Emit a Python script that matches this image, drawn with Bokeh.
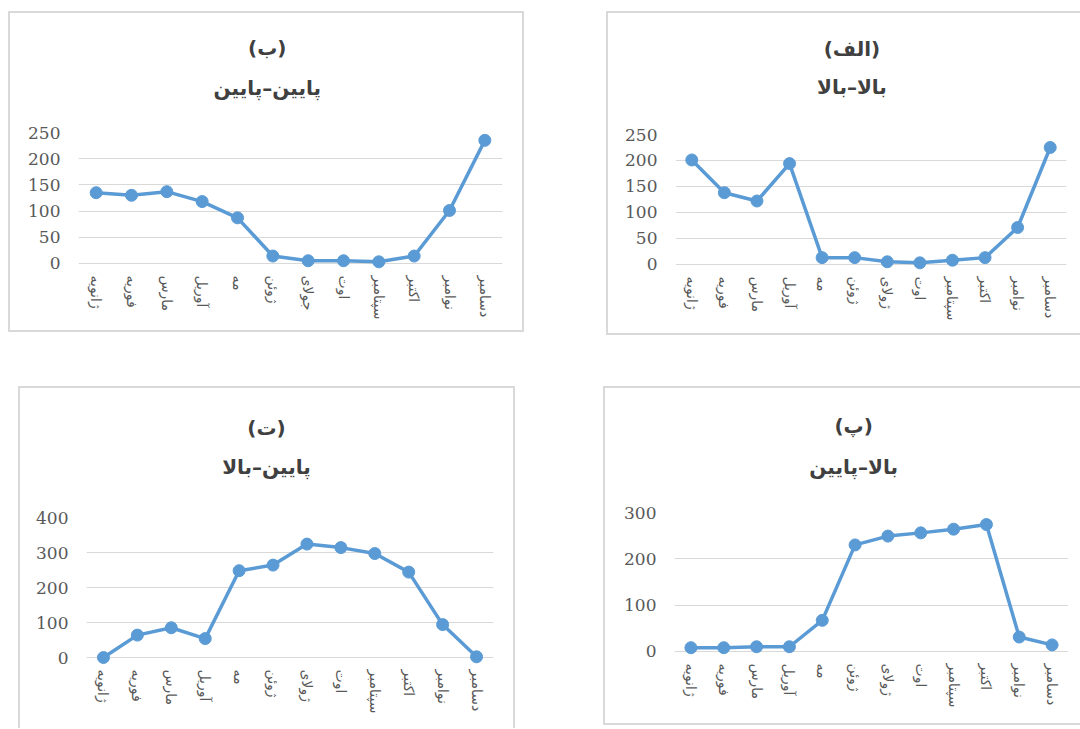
from bokeh.plotting import figure
from bokeh.layouts import column, row
from bokeh.models import Spacer, FactorRange, Range1d, Label, FixedTicker
from bokeh.embed import file_html
from bokeh.resources import INLINE

# ---- data ----
months = ["ژانویه", "فوریه", "مارس", "آوریل", "مه", "ژوئن", "ژولای",
          "اوت", "سپتامبر", "اکتبر", "نوامبر", "دسامبر"]
months_b = ["ژانویه", "فوریه", "مارس", "آوریل", "مه", "ژوئن", "جولای",
            "اوت", "سپتامبر", "اکتبر", "نوامبر", "دسامبر"]

alef_values = [201, 138, 122, 194, 13, 13, 5, 3, 8, 13, 71, 225]   # (الف) بالا-بالا
be_values = [135, 130, 137, 118, 87, 14, 5, 5, 3, 14, 101, 235]    # (ب) پایین-پایین
pe_values = [8, 8, 10, 10, 67, 230, 249, 256, 264, 274, 31, 14]     # (پ) بالا-پایین
te_values = [0, 64, 85, 54, 248, 264, 324, 314, 297, 244, 94, 2]    # (ت) پایین-بالا

ticks_250 = [0, 50, 100, 150, 200, 250]
ticks_300 = [0, 100, 200, 300]
ticks_400 = [0, 100, 200, 300, 400]

titles_alef = ["(الف)", "بالا–بالا"]
titles_be = ["(ب)", "پایین–پایین"]
titles_pe = ["(پ)", "بالا–پایین"]
titles_te = ["(ت)", "پایین–بالا"]

BLUE = "#5b9bd5"
GRID = "#d9d9d9"
TXT = "#595959"
BCOL = "#d9d9d9"
HT = 100        # height of the title strip of each panel
TSHIFT = -29    # horizontal correction for the title labels


def css(bt, br, bb, bl):
    return {"box-sizing": "border-box",
            "border-style": "solid", "border-color": BCOL,
            "border-width": f"{bt}px {br}px {bb}px {bl}px"}


def panel(cats, vals, ticks, titles, ex, ey, W, H, borders,
          fx0, fx1, fy_top, fy_zero, tx, ty1, ty2):
    bt, br, bb, bl = borders

    # --- title strip (its frame is the whole canvas) ---
    tcw, tch = W - bl - br, HT - bt
    tf = figure(width=W, height=HT, title=None,
                x_range=Range1d(0, tcw), y_range=Range1d(0, tch),
                x_axis_type=None, y_axis_type=None, min_border=0,
                output_backend="svg", toolbar_location=None,
                outline_line_color=None, background_fill_color="white",
                border_fill_color="white", styles=css(bt, br, 0, bl))
    tf.grid.visible = False
    for t, ty in zip(titles, (ty1, ty2)):
        tf.add_layout(Label(x=tx + TSHIFT - (ex + bl),
                            y=tch - (ty - (ey + bt)),
                            text=t, text_align="center",
                            text_baseline="middle",
                            text_font="DejaVu Sans", text_font_style="bold",
                            text_font_size="20px", text_color="#404040"))

    # --- chart part ---
    cx, cy = ex + bl, ey + HT
    cw, ch = W - bl - br, H - HT - bb
    top_val = ticks[-1]
    ppu = (fy_zero - fy_top) / top_val
    ext = 8
    p = figure(width=W, height=H - HT, title=None,
               x_range=FactorRange(*cats),
               y_range=Range1d(-ext / ppu, top_val),
               output_backend="svg", toolbar_location=None,
               min_border_left=int(round(fx0 - cx)),
               min_border_right=int(round(cx + cw - fx1)),
               min_border_top=int(round(fy_top - cy)),
               min_border_bottom=int(round(cy + ch - (fy_zero + ext))),
               background_fill_color="white", border_fill_color="white",
               outline_line_color=None, styles=css(0, br, bb, bl))
    p.line(cats, vals, line_color=BLUE, line_width=3.5)
    p.scatter(cats, vals, size=12, fill_color=BLUE, line_color=BLUE)

    p.xgrid.grid_line_color = None
    p.ygrid.grid_line_color = GRID
    p.ygrid.grid_line_width = 1
    p.yaxis.ticker = FixedTicker(ticks=ticks)
    p.yaxis.minor_tick_line_color = None
    for ax in (p.xaxis, p.yaxis):
        ax.axis_line_color = None
        ax.major_tick_line_color = None
        ax.major_tick_in = 0
        ax.major_tick_out = 0
    p.yaxis.major_label_standoff = 18
    p.yaxis.major_label_text_font = "DejaVu Serif"
    p.yaxis.major_label_text_font_size = "17px"
    p.yaxis.major_label_text_color = TXT
    p.xaxis.major_label_orientation = "vertical"
    p.xaxis.major_label_standoff = 4
    p.xaxis.major_label_text_font = "DejaVu Sans"
    p.xaxis.major_label_text_font_size = "14px"
    p.xaxis.major_label_text_color = TXT
    return column(tf, p, spacing=0)


ALL = (2, 2, 2, 2)
NO_RIGHT = (2, 0, 2, 2)
NO_BOTTOM = (2, 2, 0, 2)

p_be = panel(months_b, be_values, ticks_250, titles_be,
             8, 11, 516, 321, ALL,
             78, 498, 132.3, 261, 267, 47, 86)
p_alef = panel(months, alef_values, ticks_250, titles_alef,
               606, 11, 474, 324, NO_RIGHT,
               675, 1064, 133.7, 261.7, 850, 48, 85)
p_te = panel(months, te_values, ticks_400, titles_te,
             18, 386, 497, 342, NO_BOTTOM,
             86, 489, 516.7, 656.7, 267, 427, 465)
p_pe = panel(months, pe_values, ticks_300, titles_pe,
             603, 386, 477, 339, NO_RIGHT,
             674, 1066, 512.3, 649.3, 850, 425, 465)

layout = column(
    Spacer(width=1080, height=11),
    row(Spacer(width=8, height=10), p_be, Spacer(width=82, height=10), p_alef),
    Spacer(width=1080, height=51),
    row(Spacer(width=18, height=10), p_te, Spacer(width=88, height=10), p_pe),
    spacing=0,
)

open("out.html", "w").write(file_html(layout, INLINE))
